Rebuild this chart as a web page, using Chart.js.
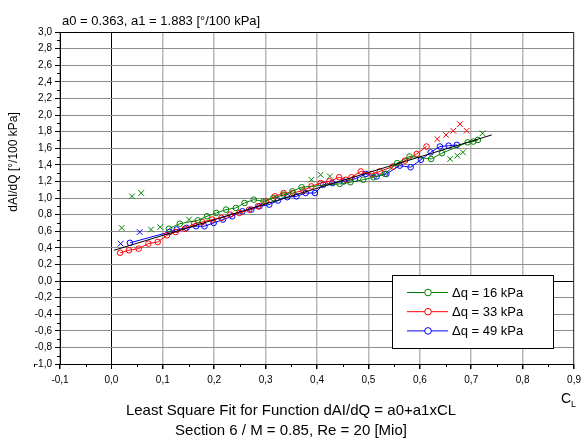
<!DOCTYPE html>
<html lang="en">
<head>
<meta charset="UTF-8">
<title>dAI/dQ Least Square Fit</title>
<script src="https://cdn.jsdelivr.net/npm/chart.js"></script>
<style>
  body { margin: 0; padding: 0; background: #fff; }
  canvas { display: block; }
</style>
</head>
<body>
<canvas id="fitChart" width="586" height="442"></canvas>
<script>
// series (x = CL, y = dAI/dQ)
const greenX = [0.112,0.133,0.168,0.186,0.204,0.223,0.242,0.259,0.277,0.296,0.315,0.335,0.352,0.370,0.444,0.465,0.490,0.510,0.532,0.556,0.580,0.622,0.643,0.693,0.704,0.713];
const greenY = [0.63,0.69,0.73,0.78,0.82,0.86,0.88,0.94,0.98,0.96,1.00,1.04,1.08,1.13,1.17,1.19,1.22,1.25,1.29,1.42,1.50,1.47,1.54,1.67,1.68,1.70];
const greenOutX = [0.020,0.040,0.058,0.077,0.095,0.151,0.389,0.407,0.425,0.659,0.673,0.684,0.722];
const greenOutY = [0.64,1.02,1.06,0.62,0.65,0.74,1.22,1.28,1.26,1.47,1.51,1.55,1.78];

const redX = [0.017,0.034,0.053,0.072,0.090,0.108,0.125,0.143,0.161,0.177,0.196,0.214,0.231,0.249,0.268,0.285,0.300,0.318,0.335,0.353,0.373,0.389,0.407,0.424,0.443,0.456,0.467,0.485,0.506,0.522,0.548,0.571,0.594,0.613];
const redY = [0.34,0.37,0.39,0.45,0.47,0.55,0.59,0.63,0.69,0.71,0.74,0.76,0.80,0.82,0.86,0.90,0.96,1.02,1.06,1.06,1.09,1.14,1.18,1.20,1.25,1.22,1.25,1.32,1.29,1.32,1.38,1.45,1.53,1.62];
const redOutX = [0.634,0.651,0.665,0.678,0.691];
const redOutY = [1.71,1.76,1.81,1.89,1.81];

const blueX = [0.036,0.113,0.127,0.146,0.165,0.181,0.199,0.217,0.235,0.255,0.272,0.288,0.307,0.324,0.342,0.360,0.378,0.396,0.412,0.430,0.452,0.474,0.495,0.516,0.535,0.561,0.582,0.602,0.621,0.639,0.656,0.672];
const blueY = [0.46,0.59,0.62,0.64,0.66,0.66,0.70,0.74,0.78,0.84,0.86,0.90,0.92,0.97,1.01,1.02,1.06,1.06,1.16,1.18,1.20,1.23,1.29,1.26,1.29,1.39,1.37,1.46,1.55,1.62,1.63,1.64];
const blueOutX = [0.018,0.055];
const blueOutY = [0.45,0.59];

const fitX = [0.005, 0.74];
const fitY = [0.37, 1.76];

const seriesLabels = ['\u0394q = 16 kPa', '\u0394q = 33 kPa', '\u0394q = 49 kPa'];
const seriesColors = ['#008000', '#ff0000', '#0000ff'];

const FONT = '"Liberation Sans", Arial, sans-serif';

function pts(xs, ys) { return xs.map((x, i) => ({ x: x, y: ys[i] })); }
function fmt(v) { return (Math.round(v * 10) / 10).toFixed(1).replace('.', ','); }

function lineSet(xs, ys, c) {
    return { data: pts(xs, ys), showLine: true, borderColor: c, borderWidth: 1,
             pointStyle: 'circle', pointRadius: 2.8, pointBorderWidth: 1,
             pointBackgroundColor: 'rgba(0,0,0,0)', pointBorderColor: c, order: 2 };
}
function crossSet(xs, ys, c) {
    return { data: pts(xs, ys), showLine: false, pointStyle: 'crossRot', pointRadius: 4,
             pointBorderWidth: 1, pointBorderColor: c, borderColor: c, order: 2 };
}

const extras = {
    id: 'extras',
    beforeDatasetsDraw(chart) {
        const { ctx, chartArea: a, scales: { x, y } } = chart;
        ctx.save();
        ctx.strokeStyle = '#000';
        ctx.lineWidth = 1;
        ctx.beginPath();
        // minor ticks
        for (let v = -0.95; v < 0.9; v += 0.1) {
            const px = Math.round(x.getPixelForValue(v)) + 0.5;
            ctx.moveTo(px, a.bottom); ctx.lineTo(px, a.bottom + 3);
        }
        for (let v = -0.9; v < 3; v += 0.2) {
            const py = Math.round(y.getPixelForValue(v)) + 0.5;
            ctx.moveTo(a.left - 3, py); ctx.lineTo(a.left, py);
        }
        ctx.stroke();
        // frame
        ctx.beginPath();
        ctx.moveTo(a.left, a.top + 0.5); ctx.lineTo(a.right, a.top + 0.5);
        ctx.stroke();
        ctx.strokeStyle = '#404040';
        ctx.beginPath();
        ctx.moveTo(a.right - 0.5, a.top); ctx.lineTo(a.right - 0.5, a.bottom);
        ctx.stroke();
        ctx.restore();
    },
    afterDraw(chart) {
        const { ctx } = chart;
        ctx.save();
        ctx.fillStyle = '#000';
        ctx.textBaseline = 'alphabetic';
        ctx.font = '13px ' + FONT;
        ctx.textAlign = 'left';
        ctx.fillText('a0 = 0.363, a1 = 1.883 [\u00b0/100 kPa]', 62, 25);

        ctx.font = '15px ' + FONT;
        ctx.textAlign = 'center';
        ctx.fillText('Least Square Fit for Function dAI/dQ = a0+a1xCL', 291, 415);
        ctx.fillText('Section 6 / M = 0.85, Re = 20 [Mio]', 291, 435);

        ctx.font = '14px ' + FONT;
        ctx.textAlign = 'left';
        ctx.fillText('C', 561, 403);
        ctx.font = '9px ' + FONT;
        ctx.fillText('L', 571, 407);

        ctx.translate(17, 162);
        ctx.rotate(-Math.PI / 2);
        ctx.font = '12px ' + FONT;
        ctx.textAlign = 'center';
        ctx.fillText('dAI/dQ [\u00b0/100 kPa]', 0, 0);
        ctx.restore();

        // legend box
        ctx.save();
        ctx.fillStyle = '#fff';
        ctx.fillRect(392, 275, 161, 73);
        ctx.strokeStyle = '#000';
        ctx.lineWidth = 1;
        ctx.strokeRect(392.5, 275.5, 161, 73);
        ctx.font = '13px ' + FONT;
        ctx.textBaseline = 'middle';
        ctx.textAlign = 'left';
        seriesLabels.forEach((lab, i) => {
            const yy = 292.5 + i * 19.2;
            ctx.strokeStyle = seriesColors[i];
            ctx.beginPath();
            ctx.moveTo(407, yy); ctx.lineTo(448, yy);
            ctx.stroke();
            ctx.fillStyle = '#fff';
            ctx.beginPath();
            ctx.arc(428, yy, 3.3, 0, Math.PI * 2);
            ctx.fill();
            ctx.stroke();
            ctx.fillStyle = '#000';
            ctx.fillText(lab, 452, yy + 1);
        });
        ctx.restore();
    }
};

new Chart(document.getElementById('fitChart'), {
    type: 'scatter',
    data: {
        datasets: [
            { data: pts(fitX, fitY), showLine: true, borderColor: '#000', borderWidth: 1, pointRadius: 0, order: 1 },
            lineSet(greenX, greenY, seriesColors[0]),
            crossSet(greenOutX, greenOutY, seriesColors[0]),
            lineSet(redX, redY, seriesColors[1]),
            crossSet(redOutX, redOutY, seriesColors[1]),
            lineSet(blueX, blueY, seriesColors[2]),
            crossSet(blueOutX, blueOutY, seriesColors[2])
        ]
    },
    options: {
        responsive: false,
        animation: false,
        layout: { padding: { top: 32, right: 11, left: 0, bottom: 0 } },
        plugins: { legend: { display: false }, tooltip: { enabled: false }, title: { display: false } },
        scales: {
            x: {
                type: 'linear', min: -0.1, max: 0.9,
                afterFit(s) { s.height = 78; },
                ticks: { stepSize: 0.1, callback: v => fmt(v), color: '#000', padding: 5,
                         font: { family: FONT, size: 10 }, maxRotation: 0, autoSkip: false },
                grid: { color: c => Math.abs(c.tick.value) < 1e-6 ? '#000' : '#b8b8b8',
                        lineWidth: c => Math.abs(c.tick.value) < 1e-6 ? 1 : 1.5,
                        tickColor: '#000', tickLength: 5 },
                border: { display: true, color: '#000', width: 1 }
            },
            y: {
                type: 'linear', min: -1, max: 3,
                afterFit(s) { s.width = 60; },
                ticks: { stepSize: 0.2, callback: v => fmt(v), color: '#000', padding: 3,
                         font: { family: FONT, size: 10 }, autoSkip: false },
                grid: { color: c => Math.abs(c.tick.value) < 1e-6 ? '#000' : '#8c8c8c',
                        lineWidth: 1, tickColor: '#000', tickLength: 5 },
                border: { display: true, color: '#000', width: 1 }
            }
        }
    },
    plugins: [extras]
});
</script>
</body>
</html>
